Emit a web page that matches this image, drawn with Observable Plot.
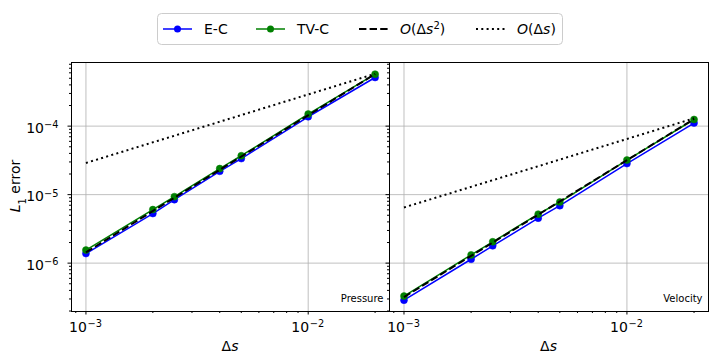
<!DOCTYPE html>
<html><head><meta charset="utf-8">
<script src="https://cdn.jsdelivr.net/npm/d3@7"></script>
<script src="https://cdn.jsdelivr.net/npm/@observablehq/plot@0.6"></script>
<style>
body{margin:0;background:#fff;}
#fig{position:relative;width:720px;height:360px;background:#fff;font-family:"DejaVu Sans",sans-serif;overflow:hidden}
#fig > svg{position:absolute}
</style></head><body><div id="fig"></div>
<script>
// Grid spacings Δs
const ds = [0.001, 0.002, 0.0025, 0.004, 0.005, 0.01, 0.02];
// Pressure L1 errors
const pressureEC  = [1.38e-6, 5.3e-6, 8.45e-6, 2.19e-5, 3.36e-5, 1.37e-4, 5.13e-4];
const pressureTVC = [1.55e-6, 6.05e-6, 9.35e-6, 2.4e-5, 3.7e-5, 1.5e-4, 5.74e-4];
// Velocity L1 errors
const velocityEC  = [2.88e-7, 1.14e-6, 1.79e-6, 4.54e-6, 6.9e-6, 2.84e-5, 1.11e-4];
const velocityTVC = [3.3e-7, 1.32e-6, 2.05e-6, 5.19e-6, 7.8e-6, 3.2e-5, 1.25e-4];
// Reference slopes (endpoints)
const refDs = [0.001, 0.02];
const pressureO2 = [1.44e-6, 5.76e-4];
const pressureO1 = [2.9e-5, 5.8e-4];
const velocityO2 = [3.2e-7, 1.27e-4];
const velocityO1 = [6.5e-6, 1.3e-4];
// Panel names and axis ticks
const panelNames = ["Pressure", "Velocity"];
const xMajor = [1e-3, 1e-2];
const yMajor = [1e-6, 1e-5, 1e-4];
const xDomain = [0.000861, 0.02322];
const yDomain = [1.968e-7, 8.49e-4];

function minorTicks(domain, e0, e1) {
  const out = [];
  for (let e = e0; e <= e1; e++) for (let m = 2; m <= 9; m++) {
    const v = m * Math.pow(10, e);
    if (v >= domain[0] && v <= domain[1]) out.push(v);
  }
  return out;
}
const xMinor = minorTicks(xDomain, -4, -2);
const yMinor = minorTicks(yDomain, -7, -4);

const expText = d => "\u2212" + String(Math.abs(Math.round(Math.log10(d))));
const blank = () => "";

function rows(xs, ys) { return xs.map((x, i) => ({x, y: ys[i]})); }

function panel(name, ec, tvc, o2, o1, showY, width, marginLeft, marginRight) {
  const yLabels = showY ? [
    Plot.text(yMajor, {y: d => d, frameAnchor: "left", text: () => "10", textAnchor: "end", dx: -27.5, dy: 2.2, lineAnchor: "middle", fontSize: 14, fill: "black"}),
    Plot.text(yMajor, {y: d => d, frameAnchor: "left", text: expText, textAnchor: "end", dx: -13, dy: -1.2, lineAnchor: "middle", fontSize: 9.8, fill: "black"})
  ] : [];
  return Plot.plot({
    width, height: 310, marginTop: 12, marginBottom: 49, marginLeft, marginRight,
    x: {type: "log", domain: xDomain},
    y: {type: "log", domain: yDomain},
    style: {background: "transparent", fontFamily: "DejaVu Sans", overflow: "visible", color: "black"},
    marks: [
      Plot.gridX(xMajor, {stroke: "#b0b0b0", strokeOpacity: 1, strokeWidth: 0.8}),
      Plot.gridY(yMajor, {stroke: "#b0b0b0", strokeOpacity: 1, strokeWidth: 0.8}),
      Plot.line(rows(ds, ec), {x: "x", y: "y", stroke: "#0000ff", strokeWidth: 1.5}),
      Plot.dot(rows(ds, ec), {x: "x", y: "y", r: 3.5, fill: "#0000ff", stroke: "#0000ff", strokeWidth: 0.5}),
      Plot.line(rows(ds, tvc), {x: "x", y: "y", stroke: "#008000", strokeWidth: 1.5}),
      Plot.dot(rows(ds, tvc), {x: "x", y: "y", r: 3.5, fill: "#008000", stroke: "#008000", strokeWidth: 0.5}),
      Plot.line(rows(refDs, o2), {x: "x", y: "y", stroke: "black", strokeWidth: 2, strokeDasharray: "7.4,3.2", strokeLinecap: "butt"}),
      Plot.line(rows(refDs, o1), {x: "x", y: "y", stroke: "black", strokeWidth: 2, strokeDasharray: "2,3.3", strokeLinecap: "butt"}),
      Plot.frame({stroke: "black", strokeWidth: 1}),
      Plot.axisX(xMinor, {tickSize: 2, tickFormat: blank, label: null}),
      Plot.axisX(xMajor, {tickSize: 3.5, tickFormat: blank, label: null}),
      Plot.axisY(yMinor, {tickSize: 2, tickFormat: blank, label: null}),
      Plot.axisY(yMajor, {tickSize: 3.5, tickFormat: blank, label: null}),
      Plot.text(xMajor, {x: d => d, frameAnchor: "bottom", text: () => "10", textAnchor: "end", dx: 1, dy: 16.2, lineAnchor: "middle", fontSize: 14, fill: "black"}),
      Plot.text(xMajor, {x: d => d, frameAnchor: "bottom", text: expText, textAnchor: "start", dx: 1.5, dy: 12.5, lineAnchor: "middle", fontSize: 9.8, fill: "black"}),
      ...yLabels,
      Plot.text([name], {frameAnchor: "bottom-right", text: d => d, dx: -6, dy: -10, fontSize: 10, lineAnchor: "bottom", fill: "black"})
    ]
  });
}

const fig = document.getElementById("fig");
const left = panel(panelNames[0], pressureEC, pressureTVC, pressureO2, pressureO1, true, 390, 71, 1);
left.style.left = "0px"; left.style.top = "50px";
fig.appendChild(left);
const right = panel(panelNames[1], velocityEC, velocityTVC, velocityO2, velocityO1, false, 341, 10, 12);
right.style.left = "379px"; right.style.top = "50px";
fig.appendChild(right);

// Overlay: legend and axis titles
const ov = d3.create("svg").attr("width", 720).attr("height", 360)
  .style("left", "0px").style("top", "0px").style("position", "absolute").style("pointer-events", "none")
  .style("font-family", "DejaVu Sans");
ov.append("rect").attr("x", 157.5).attr("y", 13.5).attr("width", 405).attr("height", 31).attr("rx", 4)
  .attr("fill", "white").attr("stroke", "#cccccc");
const legendItems = [
  {x0: 163, tx: 204, color: "#0000ff", dash: null, dot: true, label: [["E-C", null]]},
  {x0: 256, tx: 297, color: "#008000", dash: null, dot: true, label: [["TV-C", null]]},
  {x0: 359, tx: 400, color: "black", dash: "7.4,3.2", dot: false, w: 2, label: [["O", "i"], ["(Δ", null], ["s", "i"], ["2", "sup"], [")", null]]},
  {x0: 476, tx: 517, color: "black", dash: "2,3.3", dot: false, w: 2, label: [["O", "i"], ["(Δ", null], ["s", "i"], [")", null]]}
];
const ly = 29;
for (const it of legendItems) {
  ov.append("line").attr("x1", it.x0).attr("x2", it.x0 + 29).attr("y1", ly).attr("y2", ly)
    .attr("stroke", it.color).attr("stroke-width", it.w || 1.5).attr("stroke-dasharray", it.dash);
  if (it.dot) ov.append("circle").attr("cx", it.x0 + 14.5).attr("cy", ly).attr("r", 3.5).attr("fill", it.color);
  const t = ov.append("text").attr("x", it.tx).attr("y", ly + 5).attr("font-size", 14).attr("fill", "black");
  for (const [s, st] of it.label) {
    const sp = t.append("tspan").text(s);
    if (st === "i") sp.attr("font-style", "italic");
    if (st === "sup") sp.attr("font-size", 10).attr("baseline-shift", "super");
  }
}
// y title
const yt = ov.append("text").attr("transform", "translate(20,186) rotate(-90)").attr("text-anchor", "middle")
  .attr("font-size", 14).attr("fill", "black");
yt.append("tspan").attr("font-style", "italic").text("L");
yt.append("tspan").attr("font-size", 10).attr("baseline-shift", "sub").text("1");
yt.append("tspan").text(" error");
// x titles
for (const cx of [230, 548.5]) {
  const xt = ov.append("text").attr("x", cx).attr("y", 351).attr("text-anchor", "middle").attr("font-size", 14).attr("fill", "black");
  xt.append("tspan").text("Δ");
  xt.append("tspan").attr("font-style", "italic").text("s");
}
fig.appendChild(ov.node());
</script></body></html>
